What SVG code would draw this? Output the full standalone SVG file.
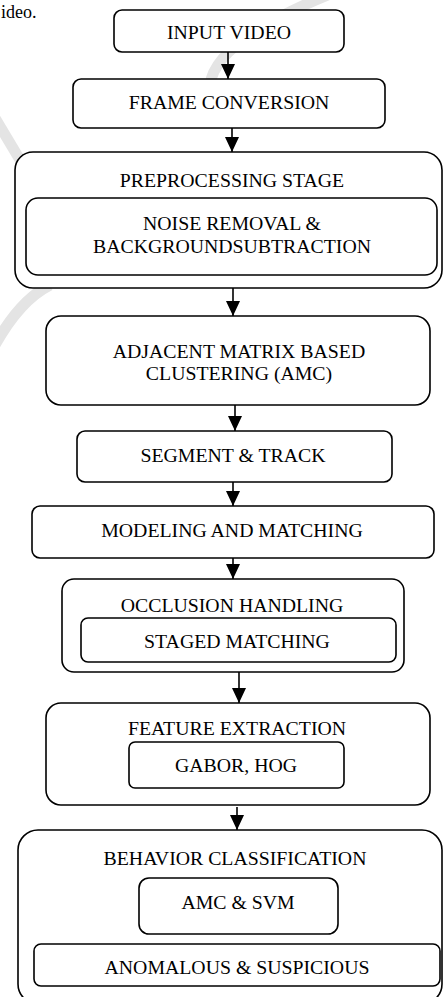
<svg xmlns="http://www.w3.org/2000/svg" width="443" height="997" viewBox="0 0 443 997">
<style>
.box{fill:#fff;stroke:#000;stroke-width:1.6}
.t{font-family:"Liberation Serif","Times New Roman",serif;font-size:19.8px;fill:#000;text-anchor:middle}
.c{stroke:#000;stroke-width:1.6;fill:none}
.wm{stroke:#e4e4e4;fill:none;stroke-width:11}
</style>
<defs>
<marker id="ah" viewBox="0 0 15 14" markerWidth="15" markerHeight="14" refX="15" refY="7" orient="auto" markerUnits="userSpaceOnUse">
<path d="M0,0 L15,7 L0,14 z" fill="#000"/>
</marker>
</defs>
<rect width="443" height="997" fill="#fff"/>
<g id="watermark">
<path class="wm" d="M335,-8 Q215,40 210,85"/>
<path class="wm" d="M-5,118 L35,185" stroke-width="13"/>
<path class="wm" d="M-5,345 Q20,300 50,285" stroke-width="13"/>
</g>
<text class="t" x="1" y="18" style="text-anchor:start;font-size:18px">ideo.</text>
<g id="connectors">
<line class="c" x1="228" y1="52" x2="228" y2="79" marker-end="url(#ah)"/>
<line class="c" x1="232" y1="128" x2="232" y2="152" marker-end="url(#ah)"/>
<line class="c" x1="233" y1="288" x2="233" y2="316" marker-end="url(#ah)"/>
<line class="c" x1="235" y1="405" x2="235" y2="431" marker-end="url(#ah)"/>
<line class="c" x1="233" y1="482" x2="233" y2="506" marker-end="url(#ah)"/>
<line class="c" x1="233" y1="558" x2="233" y2="579" marker-end="url(#ah)"/>
<line class="c" x1="239" y1="672" x2="239" y2="703" marker-end="url(#ah)"/>
<line class="c" x1="237" y1="807" x2="237" y2="830" marker-end="url(#ah)"/>
</g>
<g id="input-video">
<rect class="box" x="114" y="10" width="230" height="42" rx="8"/>
<text class="t" x="229" y="39">INPUT VIDEO</text>
</g>
<g id="frame-conversion">
<rect class="box" x="73" y="79" width="312" height="49" rx="8"/>
<text class="t" x="229" y="109">FRAME CONVERSION</text>
</g>
<g id="preprocessing">
<rect class="box" x="15" y="152" width="427" height="136" rx="18"/>
<text class="t" x="232" y="187">PREPROCESSING STAGE</text>
<g id="noise-removal">
<rect class="box" x="26" y="198" width="411" height="77" rx="12"/>
<text class="t" x="232" y="230">NOISE REMOVAL &amp;</text>
<text class="t" x="232" y="253">BACKGROUNDSUBTRACTION</text>
</g>
</g>
<g id="amc">
<rect class="box" x="46" y="316" width="384" height="89" rx="15"/>
<text class="t" x="239" y="358">ADJACENT MATRIX BASED</text>
<text class="t" x="239" y="380">CLUSTERING (AMC)</text>
</g>
<g id="segment-track">
<rect class="box" x="77" y="431" width="315" height="51" rx="8"/>
<text class="t" x="233" y="462">SEGMENT &amp; TRACK</text>
</g>
<g id="modeling-matching">
<rect class="box" x="32" y="506" width="402" height="52" rx="8"/>
<text class="t" x="232" y="537">MODELING AND MATCHING</text>
</g>
<g id="occlusion">
<rect class="box" x="62" y="579" width="342" height="93" rx="12"/>
<text class="t" x="232" y="612">OCCLUSION HANDLING</text>
<g id="staged-matching">
<rect class="box" x="81" y="618" width="315" height="44" rx="7"/>
<text class="t" x="237" y="648">STAGED MATCHING</text>
</g>
</g>
<g id="feature-extraction">
<rect class="box" x="46" y="703" width="384" height="102" rx="15"/>
<text class="t" x="237" y="735">FEATURE EXTRACTION</text>
<g id="gabor-hog">
<rect class="box" x="129" y="742" width="215" height="46" rx="6"/>
<text class="t" x="236" y="772">GABOR, HOG</text>
</g>
</g>
<g id="behavior">
<rect class="box" x="18" y="830" width="424" height="174" rx="20"/>
<text class="t" x="235" y="865">BEHAVIOR CLASSIFICATION</text>
<g id="amc-svm">
<rect class="box" x="139" y="878" width="199" height="56" rx="10"/>
<text class="t" x="238" y="909">AMC &amp; SVM</text>
</g>
<g id="anomalous">
<rect class="box" x="34" y="944" width="406" height="42" rx="7"/>
<text class="t" x="237" y="974">ANOMALOUS &amp; SUSPICIOUS</text>
</g>
</g>
</svg>
